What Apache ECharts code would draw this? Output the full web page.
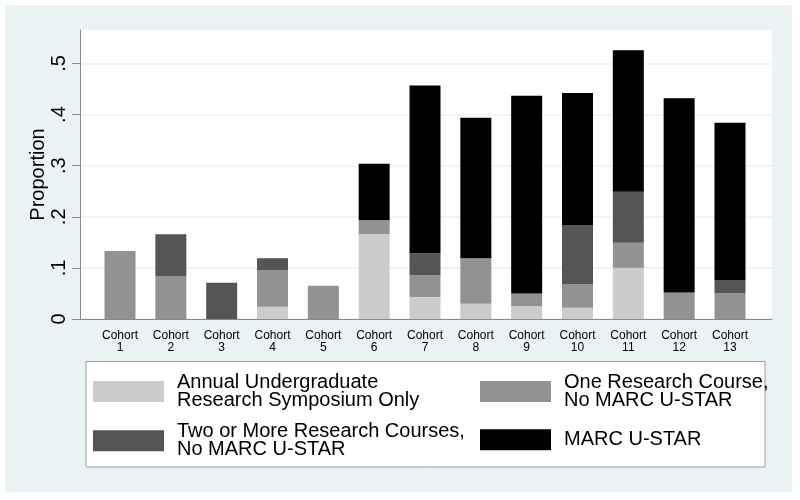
<!DOCTYPE html>
<html>
<head>
<meta charset="utf-8">
<script src="https://cdn.jsdelivr.net/npm/echarts@6/dist/echarts.min.js"></script>
<style>
  html, body { margin: 0; padding: 0; background: #fff; }
  #chart { width: 800px; height: 500px; }
</style>
</head>
<body>
<div id="chart"></div>
<script>
const cohorts = ['Cohort\n1', 'Cohort\n2', 'Cohort\n3', 'Cohort\n4', 'Cohort\n5', 'Cohort\n6', 'Cohort\n7',
  'Cohort\n8', 'Cohort\n9', 'Cohort\n10', 'Cohort\n11', 'Cohort\n12', 'Cohort\n13']
const symposiumOnly = [0, 0, 0, 0.024, 0, 0.166, 0.043, 0.030, 0.025, 0.022, 0.100, 0, 0]
const oneCourse = [0.133, 0.083, 0, 0.071, 0.065, 0.027, 0.043, 0.089, 0.025, 0.046, 0.049, 0.052, 0.050]
const twoOrMore = [0, 0.083, 0.071, 0.024, 0, 0, 0.043, 0, 0, 0.116, 0.100, 0, 0.026]
const marcUstar = [0, 0, 0, 0, 0, 0.111, 0.328, 0.275, 0.387, 0.258, 0.277, 0.380, 0.308]
const yTicks = [0, 0.1, 0.2, 0.3, 0.4, 0.5]

const font = 'Liberation Sans, Arial, sans-serif'
const axisGray = '#8a8a8a'
const yMax = 0.5655

const chart = echarts.init(document.getElementById('chart'))

function stackSeries(name, data, color) {
  return {
    name,
    type: 'bar',
    stack: 'total',
    xAxisIndex: 1,
    yAxisIndex: 1,
    barWidth: 31,
    data,
    itemStyle: { color },
  }
}

// legend text is big and tightly spaced, like the Stata original
const legendText = { fontFamily: font, fontSize: 20, color: '#000', lineHeight: 18, padding: [0, 0, 0, 8] }

chart.setOption({
  animation: false,
  graphic: [
    { type: 'rect', z: -10, shape: { x: 5, y: 5, width: 787, height: 487 }, style: { fill: '#eaf2f3' } },
    { type: 'rect', z: -5, shape: { x: 86, y: 361.5, width: 679, height: 105.5 }, style: { fill: '#fff', stroke: '#9a9a9a', lineWidth: 1 } },
  ],
  grid: [
    { left: 80, right: 28, top: 30, bottom: 181, show: true, backgroundColor: '#fff', borderWidth: 0 },
    { left: 94.6, right: 44.6, top: 30, bottom: 181 },
  ],
  xAxis: [
    {
      type: 'value', gridIndex: 0, min: 0, max: 1,
      axisLine: { show: true, lineStyle: { color: axisGray } },
      axisTick: { show: false }, axisLabel: { show: false }, splitLine: { show: false },
    },
    {
      type: 'category', gridIndex: 1, data: cohorts,
      axisLine: { show: false }, axisTick: { show: false },
      axisLabel: { fontFamily: font, fontSize: 12, color: '#000', lineHeight: 12, margin: 11 },
    },
  ],
  yAxis: [
    {
      type: 'value', gridIndex: 0, min: 0, max: yMax,
      name: 'Proportion', nameLocation: 'middle', nameGap: 32, nameMoveOverlap: false,
      nameTextStyle: { fontFamily: font, fontSize: 20, color: '#000' },
      axisLine: { show: true, lineStyle: { color: axisGray } },
      axisTick: { show: true, length: 8, lineStyle: { color: axisGray }, customValues: yTicks },
      axisLabel: {
        rotate: 90, margin: 11, fontFamily: font, fontSize: 20, color: '#000',
        customValues: yTicks,
        formatter: v => (v === 0 ? '0' : String(v).replace(/^0/, '')),
      },
      splitLine: { show: true, lineStyle: { color: '#eaf2f3', width: 1.5 } },
    },
    {
      type: 'value', gridIndex: 1, min: 0, max: yMax, show: false, splitLine: { show: false },
    },
  ],
  legend: [
    {
      orient: 'vertical', left: 93, top: 372.5, padding: 0, itemGap: 11.3,
      itemWidth: 71, itemHeight: 21, icon: 'rect', selectedMode: false,
      data: ['Annual Undergraduate\nResearch Symposium Only', 'Two or More Research Courses,\nNo MARC U-STAR'],
      textStyle: legendText,
    },
    {
      orient: 'vertical', left: 480, top: 372.5, padding: 0, itemGap: 18.8,
      itemWidth: 71, itemHeight: 21, icon: 'rect', selectedMode: false,
      data: ['One Research Course,\nNo MARC U-STAR', 'MARC U-STAR'],
      textStyle: legendText,
    },
  ],
  series: [
    stackSeries('Annual Undergraduate\nResearch Symposium Only', symposiumOnly, '#cccccc'),
    stackSeries('One Research Course,\nNo MARC U-STAR', oneCourse, '#929292'),
    stackSeries('Two or More Research Courses,\nNo MARC U-STAR', twoOrMore, '#555555'),
    stackSeries('MARC U-STAR', marcUstar, '#000000'),
  ],
})

window.addEventListener('resize', () => {
  chart.resize()
})
</script>
</body>
</html>
